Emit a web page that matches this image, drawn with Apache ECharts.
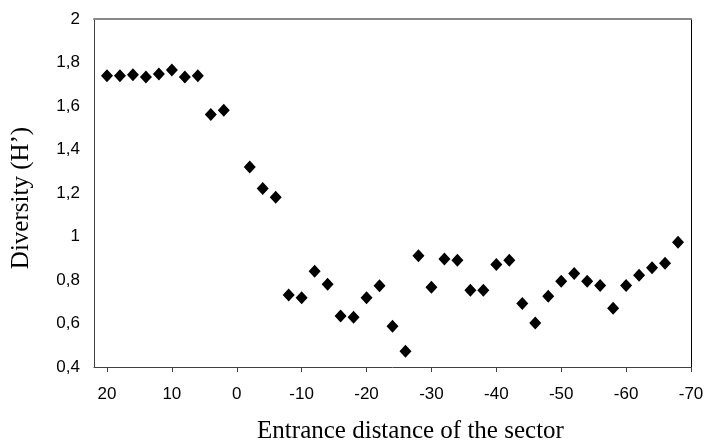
<!DOCTYPE html>
<html>
<head>
<meta charset="utf-8">
<script src="https://cdn.jsdelivr.net/npm/echarts@6/dist/echarts.min.js"></script>
<style>html,body{margin:0;padding:0;background:#fff}#c{width:705px;height:443px}</style>
</head>
<body>
<div id="c"></div>
<script>
var distances = [20, 18, 16, 14, 12, 10, 8, 6, 4, 2, -2, -4, -6, -8, -10, -12, -14, -16, -18, -20, -22, -24, -26, -28, -30, -32, -34, -36, -38, -40, -42, -44, -46, -48, -50, -52, -54, -56, -58, -60, -62, -64, -66, -68];
var diversity = [1.739, 1.739, 1.744, 1.733, 1.747, 1.765, 1.733, 1.739, 1.561, 1.581, 1.320, 1.221, 1.180, 0.731, 0.718, 0.840, 0.781, 0.635, 0.629, 0.718, 0.773, 0.587, 0.472, 0.911, 0.767, 0.897, 0.891, 0.753, 0.753, 0.871, 0.891, 0.692, 0.602, 0.725, 0.794, 0.830, 0.794, 0.775, 0.670, 0.775, 0.822, 0.856, 0.877, 0.974];
var xTitle = 'Entrance distance of the sector';
var yTitle = 'Diversity (H\u2019)';

var points = distances.map(function (d, i) { return [d, diversity[i]]; });

var chart = echarts.init(document.getElementById('c'), null, {renderer: 'canvas'});
chart.setOption({
  animation: false,
  backgroundColor: '#fff',
  grid: {left: 94, right: 14, top: 19, bottom: 76, containLabel: false, outerBoundsMode: 'none'},
  xAxis: [{
    type: 'value', inverse: true, min: -70, max: 22, interval: 10,
    name: xTitle, nameLocation: 'middle', nameGap: 52,
    nameTextStyle: {fontFamily: 'Liberation Serif', fontSize: 25, color: '#000', padding: [0, 0, 0, 36]},
    axisLine: {show: true, lineStyle: {color: '#404040', width: 1}},
    axisTick: {show: true, inside: false, length: 5, lineStyle: {color: '#404040'}},
    axisLabel: {margin: 19, fontFamily: 'Liberation Sans', fontSize: 17, color: '#000',
      showMaxLabel: false,
      formatter: function (v) { return (v % 10 === 0) ? String(v) : ''; }},
    splitLine: {show: false}
  }, {
    type: 'value', position: 'top', inverse: true, min: -70, max: 22,
    axisLine: {show: true, onZero: false, lineStyle: {color: '#888', width: 2}},
    axisTick: {show: false}, axisLabel: {show: false}, splitLine: {show: false}
  }],
  yAxis: [{
    type: 'value', min: 0.4, max: 2, interval: 0.2,
    name: yTitle, nameLocation: 'middle', nameGap: 60,
    nameTextStyle: {fontFamily: 'Liberation Serif', fontSize: 25, color: '#000', padding: [0, 10, 0, 0]},
    axisLine: {show: true, onZero: false, lineStyle: {color: '#404040', width: 1}},
    axisTick: {show: false},
    axisLabel: {margin: 14, fontFamily: 'Liberation Sans', fontSize: 17, color: '#000',
      formatter: function (v) { return String(Math.round(v * 10) / 10).replace('.', ','); }},
    splitLine: {show: false}
  }, {
    type: 'value', position: 'right', min: 0.4, max: 2,
    axisLine: {show: true, onZero: false, lineStyle: {color: '#000', width: 1}},
    axisTick: {show: false}, axisLabel: {show: false}, splitLine: {show: false}
  }],
  series: [{
    type: 'scatter',
    xAxisIndex: 0, yAxisIndex: 0,
    data: points,
    symbol: 'diamond',
    symbolSize: [12, 13],
    itemStyle: {color: '#000', opacity: 1}
  }]
});
</script>
</body>
</html>
